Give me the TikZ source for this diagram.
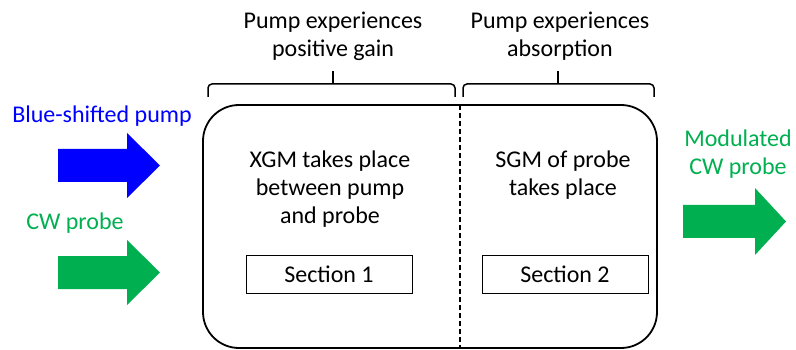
\documentclass[tikz,border=0pt]{standalone}
\usepackage{fontspec}
\setmainfont{Carlito}
\definecolor{pumpblue}{HTML}{0000FF}
\definecolor{probegreen}{HTML}{00B050}
\begin{document}
\begin{tikzpicture}[x=1pt,y=-1pt,
  lbl/.style={font=\fontsize{24}{28}\selectfont, align=center, inner sep=0pt},
  secbox/.style={draw, line width=1pt, minimum width=166pt, minimum height=38pt, font=\fontsize{24}{26}\selectfont},
  brace/.style={line width=1.5pt, rounded corners=4pt},
  bigarrow/.style={draw=none}]
\useasboundingbox (0,0) rectangle (796,350);
% main device
\draw[line width=1.8pt, rounded corners=36pt] (203,105) rectangle (657,348);
\coordinate (dtop) at (460,105);
\coordinate (dbot) at (460,348);
\draw[line width=1.3pt, dash pattern=on 5pt off 3pt] (dtop) -- (dbot);
% section boxes
\node[secbox] (s1) at (329,274) {Section 1};
\node[secbox] (s2) at (565,274) {Section 2};
% inner texts
\node[lbl] (xgm) at (330,189) {XGM takes place\\between pump\\and probe};
\node[lbl] (sgm) at (563,175) {SGM of probe\\takes place};
% brackets
\draw[brace] (208,97) -- (208,84) -- (455,84) -- (455,97);
\draw[line width=1.5pt] (333,84) -- (333,71);
\draw[brace] (463,97) -- (463,84) -- (654,84) -- (654,97);
\draw[line width=1.5pt] (558,84) -- (558,71);
\node[lbl] (t1) at (333,36) {Pump experiences\\positive gain};
\node[lbl] (t2) at (560,36) {Pump experiences\\absorption};
% input labels
\node[lbl, text=pumpblue] (bsp) at (102,116) {Blue-shifted pump};
\node[lbl, text=probegreen] (cwp) at (75,223) {CW probe};
\node[lbl, text=probegreen] (mod) at (738,154) {Modulated\\CW probe};
% arrows
\fill[pumpblue] (58,149) -- (127,149) -- (127,133) -- (160,165.5) -- (127,198) -- (127,182) -- (58,182) -- cycle;
\fill[probegreen] (58,256) -- (127,256) -- (127,240) -- (160,272.5) -- (127,305) -- (127,289) -- (58,289) -- cycle;
\fill[probegreen] (683,205) -- (755,205) -- (755,188) -- (786,221.5) -- (755,255) -- (755,238) -- (683,238) -- cycle;
\end{tikzpicture}
\end{document}
